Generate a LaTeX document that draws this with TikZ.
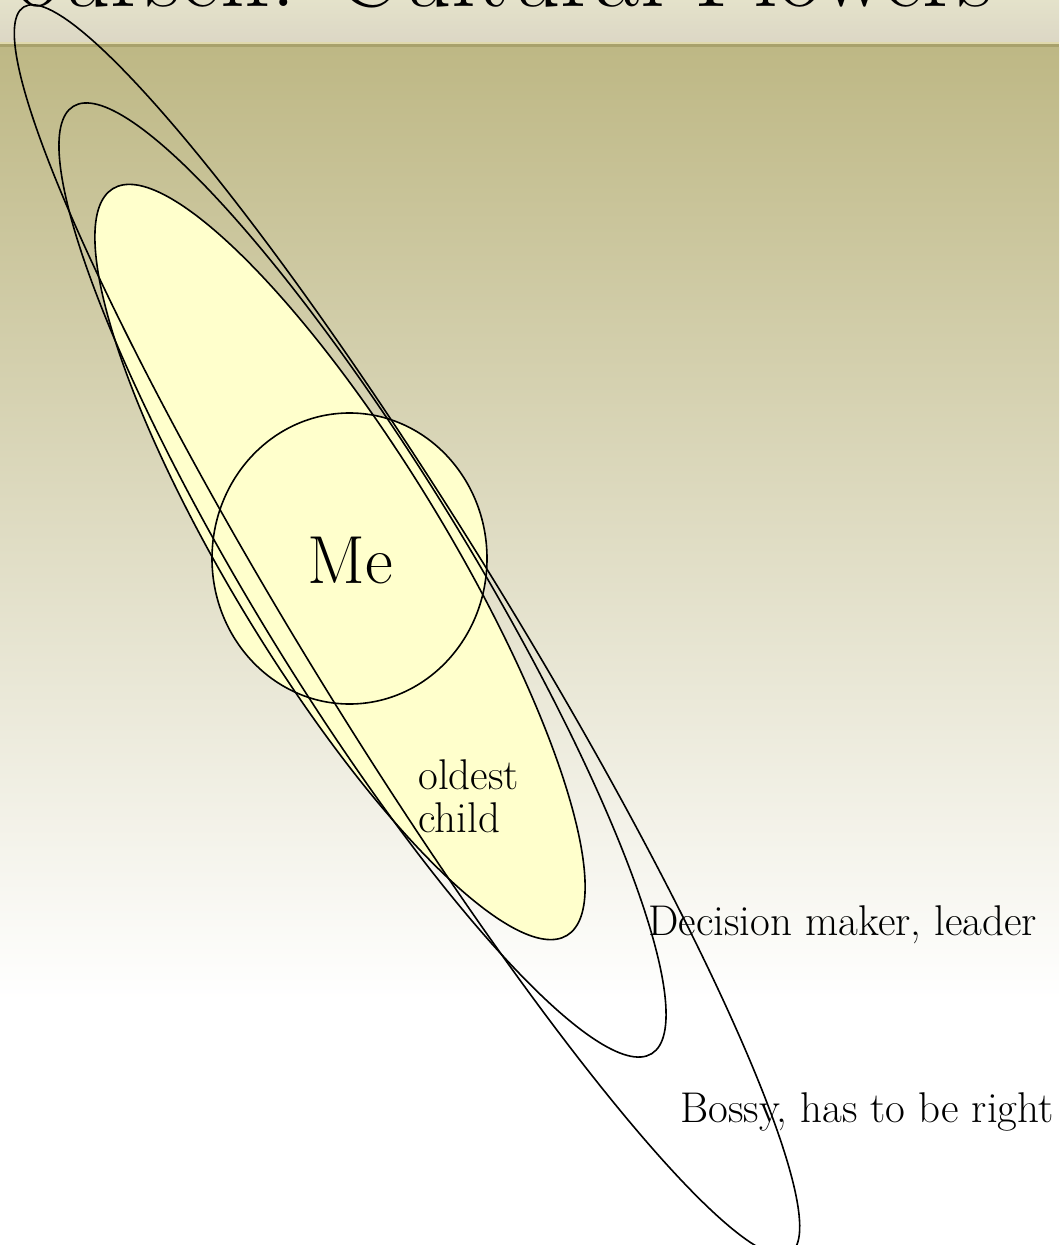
\documentclass[tikz,border=0pt]{standalone}
\usepackage{tikz}
\usepackage{xcolor}
\usetikzlibrary{positioning}
\usetikzlibrary{calc}
\definecolor{cream}{HTML}{FFFFCC}
\definecolor{olive}{HTML}{BEB885}
\definecolor{bandtop}{HTML}{E4E2CA}
\definecolor{bandlow}{HTML}{DCD7C5}
\definecolor{bandedge}{HTML}{E0D9AC}
\definecolor{bandrule}{HTML}{A8A16C}
\tikzset{
  % outline of one ring of the flower
  ring/.style={draw=black, line width=0.8pt},
  % the filled core (oldest child, me)
  core/.style={fill=cream},
  % labels
  lbl/.style={inner sep=0pt, text=black},
  biglbl/.style={lbl, font=\fontsize{34}{40}\selectfont, anchor=base},
  smalllbl/.style={lbl, font=\fontsize{21.5}{21.5}\selectfont, anchor=base west, align=left},
  titlelbl/.style={lbl, font=\fontsize{49}{54}\selectfont, anchor=base west},
}
% #1 style, #2 #3 centre, #4 long radius, #5 short radius, #6 tilt
\newcommand{\flowerring}[6]{%
  \path[#1, rotate around={#6:(#2,#3)}] (#2,#3) ellipse [x radius=#4, y radius=#5];}

\begin{document}
\begin{tikzpicture}[x=0.5pt, y=-0.5pt]

  \useasboundingbox (0,0) rectangle (1059,1245);

  % slide background
  \fill[white] (0,0) rectangle (1059,1245);
  \shade[top color=bandtop, bottom color=bandlow] (0,0) rectangle (1059,42);
  \fill[bandedge] (0,42) rectangle (1059,44);
  \fill[bandrule] (0,44) rectangle (1059,48);
  \shade[top color=olive, bottom color=white] (0,48) rectangle (1059,1000);

  \node[titlelbl] (title) at (15,7) {ourself: Cultural Flowers};

  % cores
  \flowerring{core}{340}{562}{437}{108}{-58.7}
  \flowerring{core}{349.5}{558.5}{137.5}{145.5}{0}

  % rings
  \flowerring{ring}{340}{562}{437}{108}{-58.7}
  \flowerring{ring}{362.5}{580}{555}{108}{-58.6}
  \flowerring{ring}{407}{630}{731.5}{100}{-58.4}
  \flowerring{ring}{349.5}{558.5}{137.5}{145.5}{0}

  \node[biglbl] (me) at (350,583) {Me};
  \node[smalllbl, anchor=north west] (oldest) at (418,759) {oldest\\child};
  \node[smalllbl] (leader) at (648,935) {Decision maker, leader};
  \node[smalllbl] (bossy) at (680,1122) {Bossy, has to be right};

\end{tikzpicture}
\end{document}
